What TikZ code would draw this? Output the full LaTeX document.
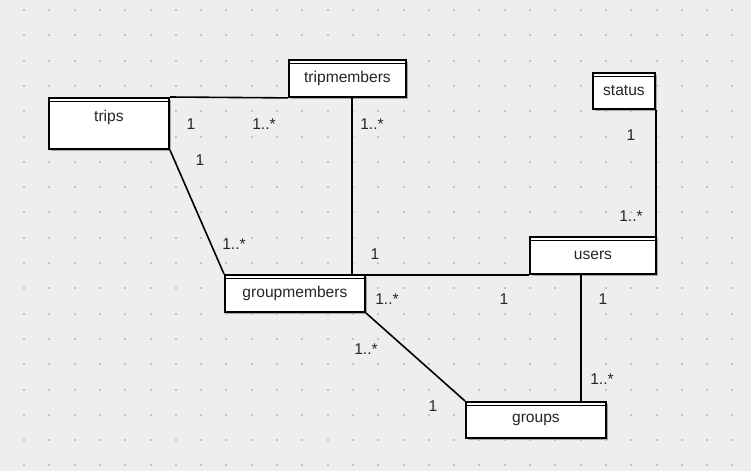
\documentclass[tikz,border=0pt]{standalone}
\usepackage{fontspec}
\setmainfont{Liberation Sans}
\usetikzlibrary{shadows}
\definecolor{canvasGrey}{HTML}{EEEEEE}
\definecolor{gridDot}{HTML}{C4C4C4}
\tikzset{
    entity/.style={draw, fill=white, line width=1.9pt, anchor=north west,
        inner sep=0pt, font=\fontsize{15.6}{18}\selectfont, text=black!85,
        drop shadow={shadow xshift=2pt, shadow yshift=-2pt, fill=black!35, opacity=1},
        path picture={\draw[line width=0.7pt]
            ([yshift=-3.5pt]path picture bounding box.north west) --
            ([yshift=-3.5pt]path picture bounding box.north east);}},
    mult/.style={font=\fontsize{15.6}{18}\selectfont, text=black!85, inner sep=0pt},
    assoc/.style={line width=1.6pt}
}
\begin{document}
\begin{tikzpicture}[x=1pt, y=-1pt]
    \useasboundingbox (0,0) rectangle (751,471);
    \fill[canvasGrey] (0,0) rectangle (751,471);
    \foreach \i in {0,...,28}
        \foreach \j in {0,...,18}
            \fill[gridDot] ({23+25.3*\i},{9+25.3*\j}) rectangle ++(2,2);

    % classes
    \node[entity, minimum width=117pt, minimum height=37pt] (tripmembers) at (288,59) {tripmembers};
    \node[entity, minimum width=120pt, minimum height=51pt, text height=11pt, text depth=14pt] (trips) at (48,97) {trips};
    \node[entity, minimum width=62pt, minimum height=36pt] (status) at (592,72) {status};
    \node[entity, minimum width=126pt, minimum height=37pt] (users) at (529,236) {users};
    \node[entity, minimum width=140pt, minimum height=37pt] (groupmembers) at (224,274) {groupmembers};
    \node[entity, minimum width=140pt, minimum height=36pt] (groups) at (465,401) {groups};

    % associations
    \coordinate (gmjoin) at ([xshift=4.5pt]tripmembers.south |- users.south);
    \draw[assoc] (trips.north east) -- (tripmembers.south west);
    \draw[assoc] ([xshift=4.5pt]tripmembers.south) -- (gmjoin);
    \draw[assoc] (gmjoin) -- (users.south west);
    \draw[assoc] (trips.south east) -- (groupmembers.north west);
    \draw[assoc] (status.south east) -- (status.south east |- users.north);
    \draw[assoc] ([xshift=-12pt]users.south) -- ([xshift=-12pt]users.south |- groups.north);
    \draw[assoc] (groupmembers.south east) -- (groups.north west);

    % multiplicities
    \node[mult] (m1) at (191,124) {1};
    \node[mult] (m2) at (264,124) {1..*};
    \node[mult] (m3) at (372,124) {1..*};
    \node[mult] (m4) at (200,160) {1};
    \node[mult] (m5) at (234,244) {1..*};
    \node[mult] (m6) at (375,254) {1};
    \node[mult] (m7) at (387,299) {1..*};
    \node[mult] (m8) at (504,299) {1};
    \node[mult] (m9) at (603,299) {1};
    \node[mult] (m10) at (366,349) {1..*};
    \node[mult] (m11) at (433,406) {1};
    \node[mult] (m12) at (602,379) {1..*};
    \node[mult] (m13) at (631,135) {1};
    \node[mult] (m14) at (631,216) {1..*};
\end{tikzpicture}
\end{document}
